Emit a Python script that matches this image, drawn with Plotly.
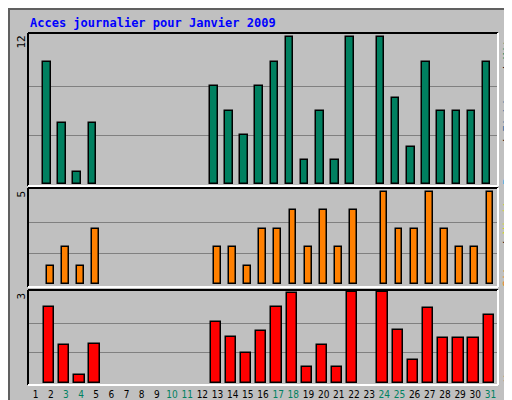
import plotly.graph_objects as go

days = list(range(1, 32))
weekend = {3, 4, 10, 11, 17, 18, 24, 25, 31}
hits = [0,10,5,1,5,0,0,0,0,0,0,0,8,6,4,8,10,12,2,6,2,12,0,12,7,3,10,6,6,6,10]
visites = [0,1,2,1,3,0,0,0,0,0,0,0,2,2,1,3,3,4,2,4,2,4,0,5,3,3,5,3,2,2,5]
ko = [0,2.53,1.27,0.27,1.3,0,0,0,0,0,0,0,2.03,1.53,1.0,1.73,2.53,3.0,0.53,1.27,0.53,3.03,0,3.03,1.77,0.77,2.5,1.5,1.5,1.5,2.27]
ymax = [12, 5, 3]

def nz(v): return [x if x else None for x in v]

fig = go.Figure()
fig.add_bar(x=days, y=nz(hits), yaxis="y3", marker=dict(color="#008060", line=dict(color="black", width=1.5)),
            width=0.5, offset=-0.5)
fig.add_bar(x=days, y=nz(visites), yaxis="y2", marker=dict(color="#ff8000", line=dict(color="black", width=1.5)),
            width=0.45, offset=-0.25)
fig.add_bar(x=days, y=nz(ko), yaxis="y", marker=dict(color="#ff0000", line=dict(color="black", width=1.5)),
            width=0.68, offset=-0.45)

W, H = 512, 400
def py(p): return 1 - p / H
x0, x1 = 20 / W, 490 / W
ticktext = [f'<span style="color:{"#008060" if d in weekend else "black"}">{d}</span>' for d in days]

grid = dict(showgrid=True, gridcolor="#808080", gridwidth=1, showticklabels=False, zeroline=False,
            fixedrange=True, automargin=False)
fig.update_layout(
    width=W, height=H, margin=dict(l=0, r=0, t=0, b=0, autoexpand=False),
    paper_bgcolor="#c0c0c0", plot_bgcolor="#c0c0c0", showlegend=False, bargap=0,
    font=dict(family="DejaVu Sans Mono", size=11, color="black"),
    xaxis=dict(domain=[x0, x1], range=[0.5, 31.5], tickvals=days, ticktext=ticktext, showgrid=False,
               ticks="", anchor="y", tickangle=0, automargin=False, ticklabelstandoff=2,
               tickfont=dict(size=10, family="DejaVu Sans Condensed")),
    yaxis=dict(domain=[py(377), py(282)], range=[-0.067, 3.1], tickvals=[1, 2], **grid),
    yaxis2=dict(domain=[py(279), py(180)], range=[-0.16, 5.22], tickvals=[5/3, 10/3], **grid),
    yaxis3=dict(domain=[py(178), py(25)], range=[-0.16, 12.33], tickvals=[4, 8], **grid),
)

shapes = [dict(type="rect", xref="paper", yref="paper", x0=1/W, x1=1-1/W, y0=1/H, y1=1-1/H,
               line=dict(color="#606060", width=2))]
for top, bot in [(25, 178), (180, 279), (282, 377)]:
    X0, X1 = x0, x1
    Yt, Yb = py(top), py(bot)
    shapes += [
        dict(type="line", xref="paper", yref="paper", x0=X0, x1=X1, y0=Yt, y1=Yt, line=dict(color="black", width=2)),
        dict(type="line", xref="paper", yref="paper", x0=X0, x1=X0, y0=Yb, y1=Yt, line=dict(color="black", width=2)),
        dict(type="line", xref="paper", yref="paper", x0=X0, x1=X1, y0=Yb, y1=Yb, line=dict(color="white", width=2)),
        dict(type="line", xref="paper", yref="paper", x0=X1, x1=X1, y0=Yb, y1=Yt, line=dict(color="white", width=2)),
    ]
fig.update_layout(shapes=shapes)

anns = [dict(text="<b>Acces journalier pour Janvier 2009</b>", x=20/W, y=py(15), xref="paper", yref="paper",
             xanchor="left", yanchor="middle", showarrow=False, font=dict(color="#0000ff", size=12))]
for txt, top in [(str(ymax[0]), 26), (str(ymax[1]), 181), (str(ymax[2]), 283)]:
    anns.append(dict(text=txt, x=13/W, y=py(top), xref="paper", yref="paper", xanchor="center", yanchor="top",
                     textangle=-90, showarrow=False, font=dict(size=11)))
right = [
    ('<span style="color:#40b0e0">Pages</span> / <span style="color:#3070a0">Fichiers</span> / <span style="color:#008060">Hits</span>', 101),
    ('<span style="color:#ff8000">Sites</span> / <span style="color:#e0e000">Visites</span>', 230),
    ('<span style="color:#ff0000">Ko</span>', 368),
]
for txt, yc in right:
    anns.append(dict(text=txt, x=500/W, y=py(yc), xref="paper", yref="paper", xanchor="center", yanchor="middle",
                     textangle=-90, showarrow=False, font=dict(size=11)))
fig.update_layout(annotations=anns)

fig.write_html("out.html")
